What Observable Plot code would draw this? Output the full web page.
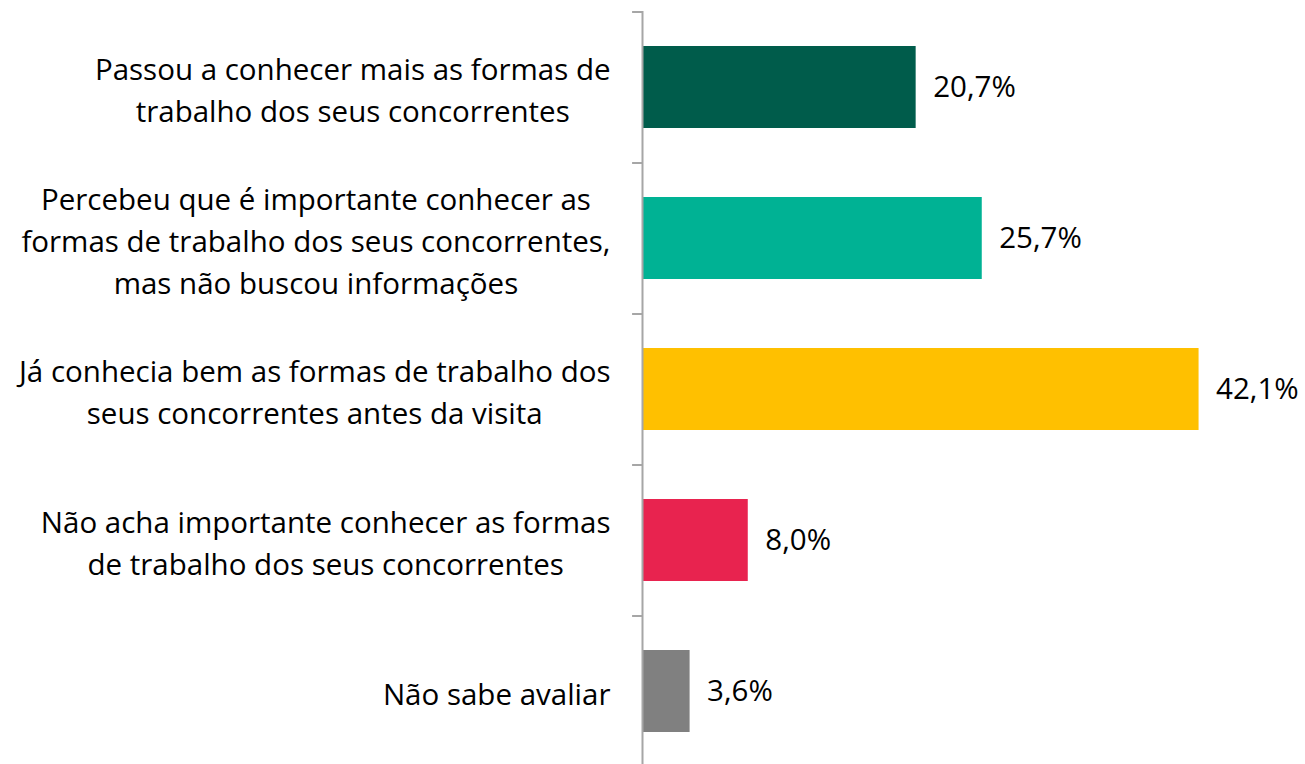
<!DOCTYPE html>
<html><head><meta charset="utf-8">
<script src="https://cdn.jsdelivr.net/npm/d3@7"></script>
<script src="https://cdn.jsdelivr.net/npm/@observablehq/plot@0.6"></script>
<style>body{margin:0;background:#fff;} svg{display:block;}</style>
</head><body><div id="chart"></div>
<script>
const categories = [
  "Passou a conhecer mais as formas de\ntrabalho dos seus concorrentes",
  "Percebeu que é importante conhecer as\nformas de trabalho dos seus concorrentes,\nmas não buscou informações",
  "Já conhecia bem as formas de trabalho dos\nseus concorrentes antes da visita",
  "Não acha importante conhecer as formas\nde trabalho dos seus concorrentes",
  "Não sabe avaliar"
];
const values = [20.7, 25.7, 42.1, 8.0, 3.6];
const valueLabels = ["20,7%", "25,7%", "42,1%", "8,0%", "3,6%"];
const colors = ["#005C4B", "#00B294", "#FFC000", "#E8234F", "#808080"];

const data = categories.map((c, i) => ({cat: c, value: values[i], label: valueLabels[i], color: colors[i]}));
const font = "'Open Sans', sans-serif";
const fontSize = 29.5;
const step = 151;

function draw() {
  const ctx = document.createElement("canvas").getContext("2d");
  ctx.font = `${fontSize}px ${font}`;
  const blockWidth = c => d3.max(c.split("\n"), l => ctx.measureText(l).width);
  const labelMarks = data.map(d => Plot.text([d], {
    y: "cat", x: 0, text: "cat", textAnchor: "middle",
    dx: -32 - blockWidth(d.cat) / 2, fontSize, lineHeight: 1.42, fill: "#000"
  }));
  const chart = Plot.plot({
    width: 1305, height: 764,
    marginLeft: 642, marginRight: 2, marginTop: 11, marginBottom: -2,
    style: {fontFamily: font, background: "#fff"},
    x: {domain: [0, 50], axis: null},
    y: {domain: categories, paddingInner: 0.46, paddingOuter: 0.23, align: 0.5, axis: null},
    marks: [
      Plot.barX(data, {y: "cat", x: "value", fill: "color"}),
      ...labelMarks,
      Plot.text(data, {y: "cat", x: "value", text: "label", textAnchor: "start", dx: 17, fontSize, fill: "#000"}),
      Plot.ruleY(data, {y: "cat", x1: -0.75, x2: 0, dy: -step / 2, stroke: "#a6a6a6", strokeWidth: 2}),
      Plot.ruleY(data.slice(-1), {y: "cat", x1: -0.75, x2: 0, dy: step / 2, stroke: "#a6a6a6", strokeWidth: 2}),
      Plot.ruleX([0], {stroke: "#a6a6a6", strokeWidth: 2})
    ]
  });
  document.getElementById("chart").append(chart);
}
(document.fonts ? document.fonts.load(`${fontSize}px 'Open Sans'`).catch(() => {}) : Promise.resolve()).then(draw);
</script></body></html>
